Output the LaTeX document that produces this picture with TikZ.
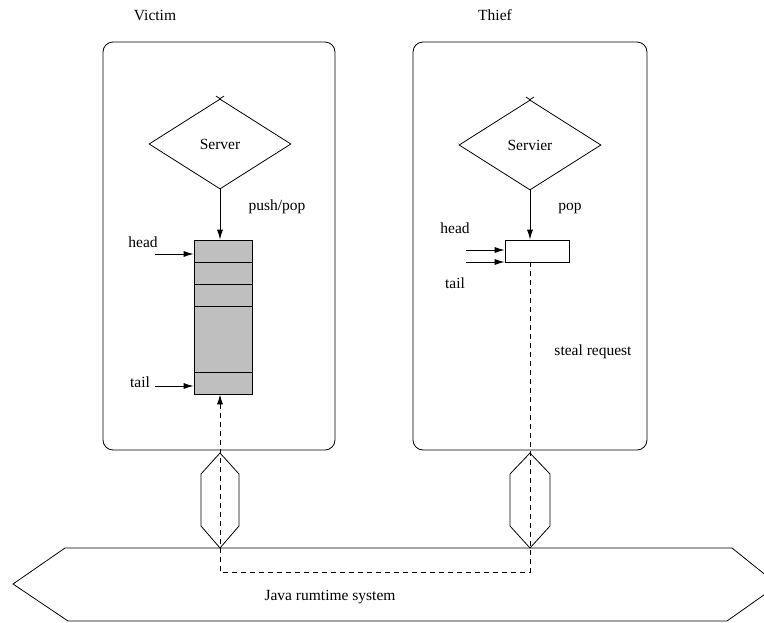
\documentclass[tikz,border=0pt]{standalone}
\usepackage{fontspec}
\setmainfont{Liberation Serif}
\usetikzlibrary{arrows.meta,shapes.geometric}
\begin{document}
\begin{tikzpicture}[x=1pt,y=-1pt,line width=0.8pt,
  lbl/.style={font=\fontsize{15.5}{18}\selectfont,inner sep=0pt},
  proc/.style={draw,rounded corners=10pt},
  srv/.style={draw,diamond,minimum width=142pt,minimum height=90pt,aspect=1.58,inner sep=0pt,
    font=\fontsize{15.5}{18}\selectfont},
  arr/.style={-{Latex[length=10pt,width=6pt]}},
  dsh/.style={dash pattern=on 5pt off 4pt}]
\useasboundingbox (0,0) rectangle (764,622);

% process boxes and titles
\draw[proc] (103,42) rectangle (335,450);
\draw[proc] (413,42) rectangle (647,450);
\node[lbl] (victim) at (155,15) {Victim};
\node[lbl] (thief) at (495,15) {Thief};

% servers
\node[srv] (s1) at (220,144) {Server};
\node[srv] (s2) at (530,145) {Servier};
\foreach \s in {s1,s2}{
  \draw (\s.north) -- ++(-4,-2.5);
  \draw (\s.north) -- ++(4,-2.5);
}

% victim deque
\node[draw,fill=gray!50,minimum width=58pt,minimum height=154pt,inner sep=0pt] (q1) at (223,317) {};
\foreach \yy in {262,284,306,372}
  \draw (q1.west |- 0,\yy) -- (q1.east |- 0,\yy);
\draw[arr] (s1.south) -- (s1.south |- q1.north);
\node[lbl] (pp) at (277,207) {push/pop};
\node[lbl] (h1) at (143,242) {head};
\node[lbl] (t1) at (140,382) {tail};
\coordinate (h1s) at (155,254);
\coordinate (t1s) at (155,386);
\draw[arr] (h1s) -- (q1.west |- h1s);
\draw[arr] (t1s) -- (q1.west |- t1s);

% thief deque
\node[draw,minimum width=64pt,minimum height=22pt,inner sep=0pt] (q2) at (537,251) {};
\draw[arr] (s2.south) -- (s2.south |- q2.north);
\node[lbl] (pop) at (570,208) {pop};
\node[lbl] (h2) at (455,228) {head};
\node[lbl] (t2) at (455,283) {tail};
\coordinate (h2s) at (466,250);
\coordinate (t2s) at (466,262);
\draw[arr] (h2s) -- (q2.west |- h2s);
\draw[arr] (t2s) -- (q2.west |- t2s);
\node[lbl] (steal) at (593,352) {steal request};

% ports into the runtime
\draw (220,453) -- (239,474) -- (239,526) -- (220,548) -- (201,526) -- (201,474) -- cycle;
\draw (530,453) -- (550,474) -- (550,526) -- (530,548) -- (510,526) -- (510,474) -- cycle;

% runtime system
\draw (65,548) -- (732,548) -- (778,585) -- (727,621) -- (68,621) -- (13,584) -- cycle;
\node[lbl] (jrt) at (330,597) {Java rumtime system};

% steal request path
\coordinate (c2) at (530,572);
\coordinate (c1) at (220,572);
\draw[dsh] (530,262) -- (c2) -- (c1) -- (220,405);
\draw[arr] (220,406) -- (q1.south -| 220,0);
\end{tikzpicture}
\end{document}
